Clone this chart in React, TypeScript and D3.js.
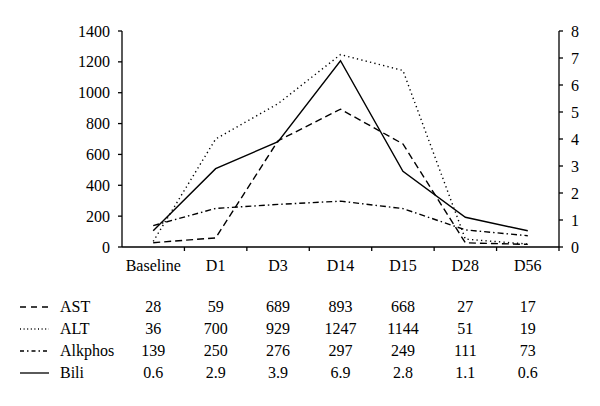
import React from "react";
import * as d3 from "d3";

const categories = ["Baseline", "D1", "D3", "D14", "D15", "D28", "D56"];
const ast = [28, 59, 689, 893, 668, 27, 17];
const alt = [36, 700, 929, 1247, 1144, 51, 19];
const alkphos = [139, 250, 276, 297, 249, 111, 73];
const bili = [0.6, 2.9, 3.9, 6.9, 2.8, 1.1, 0.6];
const astLabels = ["28", "59", "689", "893", "668", "27", "17"];
const altLabels = ["36", "700", "929", "1247", "1144", "51", "19"];
const alkLabels = ["139", "250", "276", "297", "249", "111", "73"];
const biliLabels = ["0.6", "2.9", "3.9", "6.9", "2.8", "1.1", "0.6"];
const leftTicks = [0, 200, 400, 600, 800, 1000, 1200, 1400];
const rightTicks = [0, 1, 2, 3, 4, 5, 6, 7, 8];

const FONT = "\"Liberation Serif\"";

export default function App() {
  const left = 122, right = 559, top = 31, bottom = 247;
  const x = d3.scaleBand<string>().domain(categories).range([left, right]).padding(0);
  const yL = d3.scaleLinear().domain([0, 1400]).range([bottom, top]);
  const yR = d3.scaleLinear().domain([0, 8]).range([bottom, top]);
  const cx = (c: string) => (x(c) as number) + x.bandwidth() / 2;

  const lineL = d3.line<number>().x((_, i) => cx(categories[i])).y((d) => yL(d));
  const lineR = d3.line<number>().x((_, i) => cx(categories[i])).y((d) => yR(d));

  const series = [
    { name: "AST", path: lineL(ast), dash: "7,4", legendDash: "6,5", labels: astLabels },
    { name: "ALT", path: lineL(alt), dash: "1.3,3.2", legendDash: "1,2.6", labels: altLabels },
    { name: "Alkphos", path: lineL(alkphos), dash: "6,3,1.5,3", legendDash: "4,3,1.5,3", labels: alkLabels },
    { name: "Bili", path: lineR(bili), dash: "", legendDash: "", labels: biliLabels },
  ];

  const boundaries = categories.map((c) => (x(c) as number) + x.bandwidth());
  const txt = { fontFamily: FONT, fontSize: "16px", fill: "#000" } as React.CSSProperties;

  return (
    <svg width={600} height={406} style={{ position: "absolute", left: 0, top: 0, background: "#fff" }}>
      <rect x={0} y={0} width={600} height={406} fill="#fff" />
      {/* left axis */}
      <line x1={left} x2={left} y1={top} y2={bottom} stroke="#000" strokeWidth={1.3} />
      {leftTicks.map((t) => (
        <g key={"l" + t}>
          <line x1={left - 4} x2={left} y1={yL(t)} y2={yL(t)} stroke="#000" strokeWidth={1.3} />
          <text x={left - 12} y={yL(t)} dy="0.35em" textAnchor="end" style={txt}>{t}</text>
        </g>
      ))}
      {/* right axis */}
      <line x1={right} x2={right} y1={top} y2={bottom} stroke="#000" strokeWidth={1.3} />
      {rightTicks.map((t) => (
        <g key={"r" + t}>
          <line x1={right} x2={right + 4} y1={yR(t)} y2={yR(t)} stroke="#000" strokeWidth={1.3} />
          <text x={right + 12} y={yR(t)} dy="0.35em" textAnchor="start" style={txt}>{t}</text>
        </g>
      ))}
      {/* x axis */}
      <line x1={left} x2={right} y1={bottom} y2={bottom} stroke="#000" strokeWidth={1.3} />
      {boundaries.map((b, i) => (
        <line key={"xb" + i} x1={b} x2={b} y1={bottom} y2={bottom + 4} stroke="#000" strokeWidth={1.3} />
      ))}
      {categories.map((c) => (
        <text key={"xl" + c} x={cx(c)} y={271} textAnchor="middle" style={txt}>{c}</text>
      ))}
      {/* lines */}
      {series.map((s) => (
        <path key={s.name} d={s.path || ""} fill="none" stroke="#000" strokeWidth={1.4}
          strokeDasharray={s.dash || undefined} />
      ))}
      {/* table */}
      {series.map((s, r) => {
        const base = 312 + r * 22;
        return (
          <g key={"row" + s.name}>
            <line x1={20} x2={49} y1={base - 5} y2={base - 5} stroke="#000" strokeWidth={1.3}
              strokeDasharray={s.legendDash || undefined} />
            <text x={60} y={base} style={txt}>{s.name}</text>
            {s.labels.map((v, i) => (
              <text key={i} x={cx(categories[i])} y={base} textAnchor="middle" style={txt}>{v}</text>
            ))}
          </g>
        );
      })}
    </svg>
  );
}
